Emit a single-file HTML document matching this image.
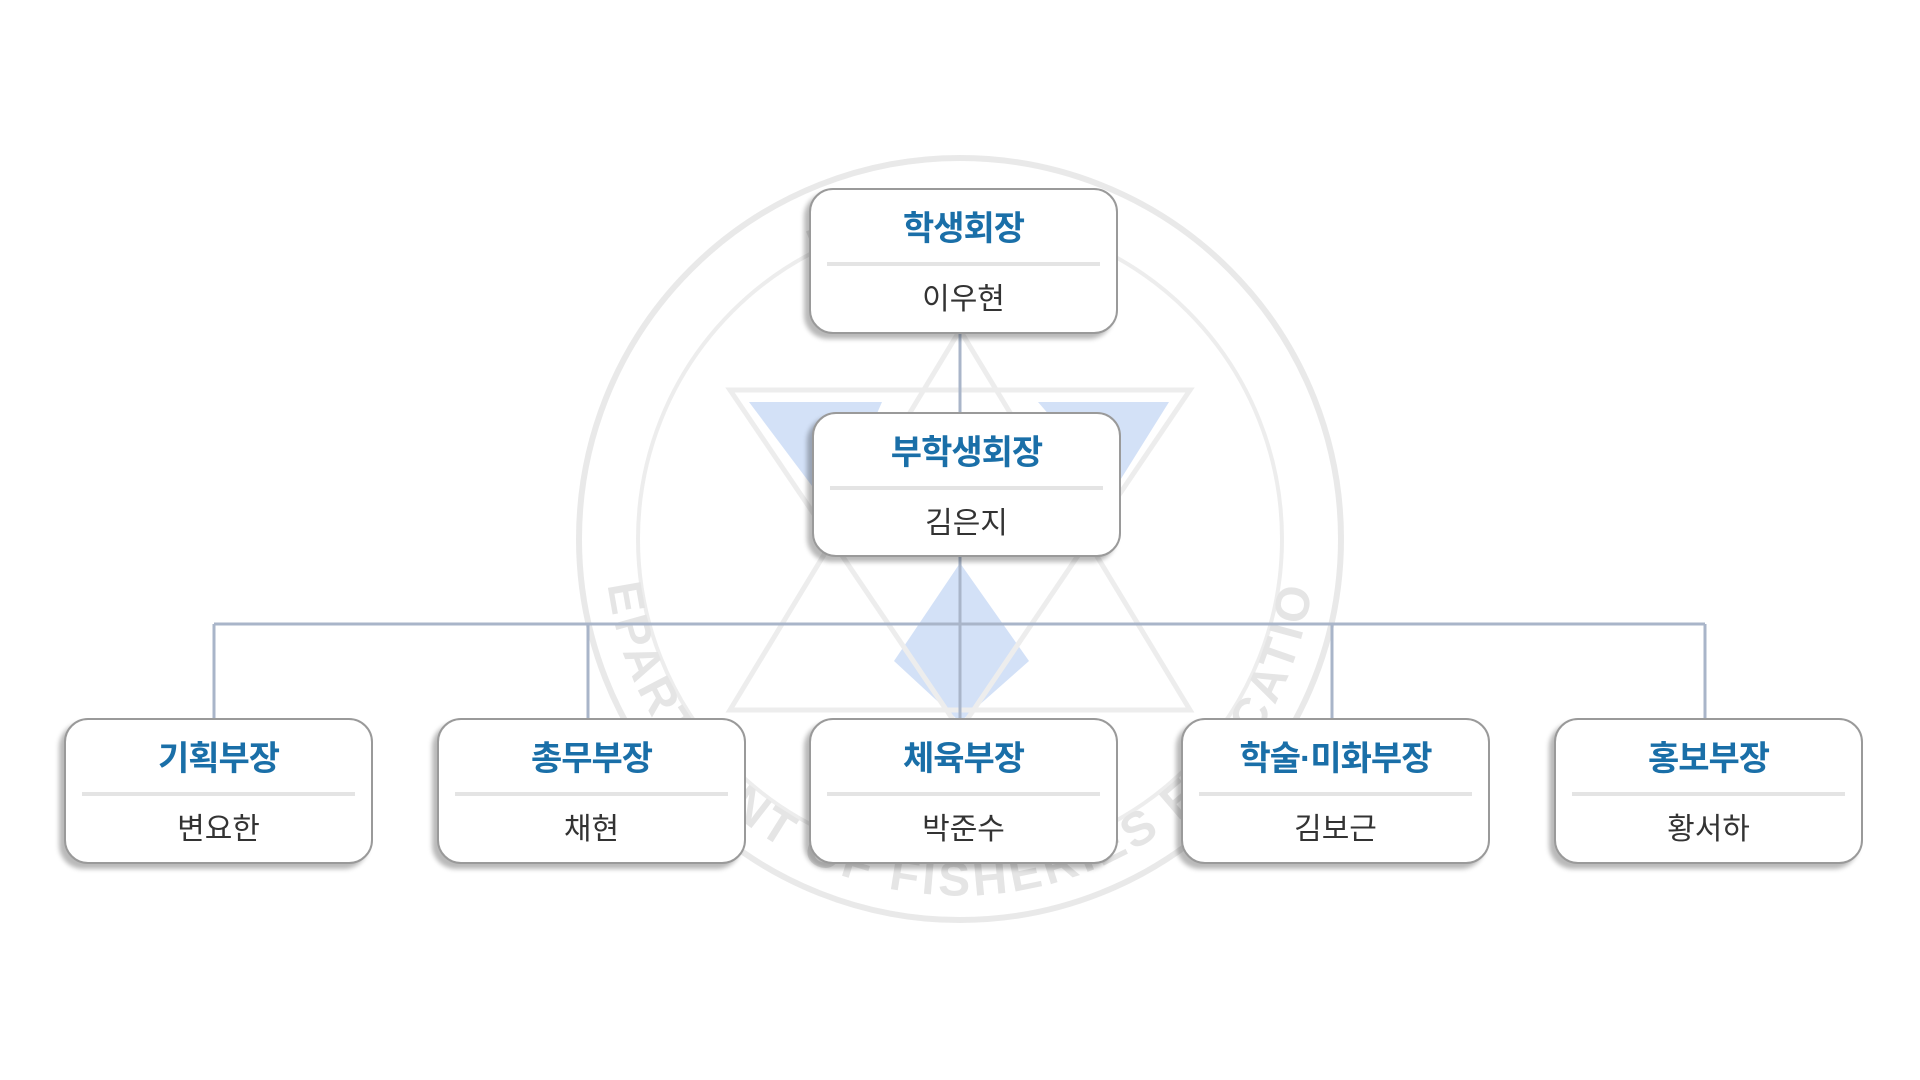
<!DOCTYPE html>
<html><head><meta charset="utf-8"><style>
body{margin:0;width:1920px;height:1080px;background:#fff;position:relative;overflow:hidden;font-family:"Liberation Sans","Noto Sans CJK KR",sans-serif}
.b{position:absolute;width:306px;height:142px;background:#fff;border:2px solid #9a9a9a;border-radius:24px;box-sizing:border-box;box-shadow:-5px 5px 5px rgba(0,0,0,0.28)}
.t{position:absolute;left:0;right:0;top:11px;text-align:center;color:#1a6fa8;font-weight:bold;font-size:34px;letter-spacing:-1px}
.d{position:absolute;left:16px;right:16px;top:72px;height:4px;background:#e4e4e4}
.n{position:absolute;left:0;right:0;top:84px;text-align:center;color:#333;font-size:30px}
</style></head><body>
<svg width="1920" height="1080" style="position:absolute;left:0;top:0">
<g opacity="0.5">
<circle cx="960" cy="539" r="381" fill="none" stroke="#d4d4d4" stroke-width="6"/>
<circle cx="960" cy="539" r="322" fill="none" stroke="#dcdcdc" stroke-width="4"/>
<polygon points="749,402 882,402 833,514" fill="#a9c4f0"/>
<polygon points="1038,402 1169,402 1114,490" fill="#a9c4f0"/>
<polygon points="960,563 1029,661 960,722 894,661" fill="#a9c4f0"/>
<polygon points="960,330 1190,710 730,710" fill="none" stroke="#ddd" stroke-width="5"/>
<polygon points="960,730 1190,390 730,390" fill="none" stroke="#ddd" stroke-width="5"/>
<path id="arc" d="M 610 600 A 355 355 0 0 0 1310 600" fill="none"/>
<text font-size="48" font-weight="bold" fill="#ccc" font-family="Liberation Sans,sans-serif" letter-spacing="4"><textPath href="#arc" startOffset="50%" text-anchor="middle">DEPARTMENT OF FISHERIES EDUCATION</textPath></text>
<path id="arc2" d="M 640 480 A 330 330 0 0 1 1280 480" fill="none"/>
<text font-size="48" fill="#ccc" font-family="Liberation Sans,sans-serif" letter-spacing="6"><textPath href="#arc2" startOffset="50%" text-anchor="middle">KNU C.O.E</textPath></text>
</g>
<g stroke="#a9b5c9" stroke-width="3" fill="none">
<line x1="960" y1="333" x2="960" y2="412"/>
<line x1="960" y1="556" x2="960" y2="718"/>
<line x1="214" y1="624" x2="1705" y2="624"/>
<line x1="214" y1="624" x2="214" y2="718"/>
<line x1="588" y1="624" x2="588" y2="718"/>
<line x1="1332" y1="624" x2="1332" y2="718"/>
<line x1="1705" y1="624" x2="1705" y2="718"/>
</g>
</svg>
<div class="b" style="left:809px;top:188px;height:146px;width:309px"><div class="t">학생회장</div><div class="d"></div><div class="n">이우현</div></div>
<div class="b" style="left:812px;top:412px;height:145px;width:309px"><div class="t">부학생회장</div><div class="d"></div><div class="n">김은지</div></div>
<div class="b" style="left:64px;top:718px;height:146px;width:309px"><div class="t">기획부장</div><div class="d"></div><div class="n">변요한</div></div>
<div class="b" style="left:437px;top:718px;height:146px;width:309px"><div class="t">총무부장</div><div class="d"></div><div class="n">채현</div></div>
<div class="b" style="left:809px;top:718px;height:146px;width:309px"><div class="t">체육부장</div><div class="d"></div><div class="n">박준수</div></div>
<div class="b" style="left:1181px;top:718px;height:146px;width:309px"><div class="t">학술·미화부장</div><div class="d"></div><div class="n">김보근</div></div>
<div class="b" style="left:1554px;top:718px;height:146px;width:309px"><div class="t">홍보부장</div><div class="d"></div><div class="n">황서하</div></div>
</body></html>
